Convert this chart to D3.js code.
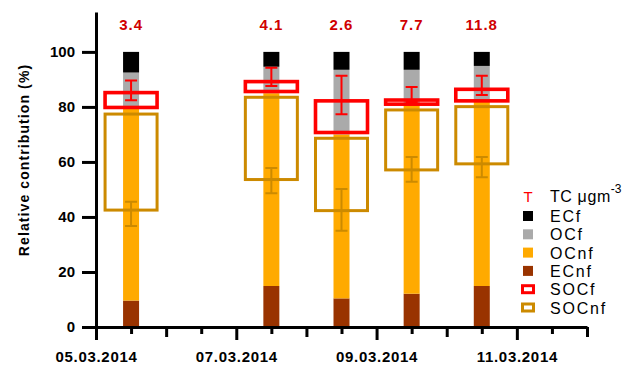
<!DOCTYPE html>
<html>
<head>
<meta charset="utf-8">
<script src="https://cdn.jsdelivr.net/npm/d3@7"></script>
<style>
  body { margin: 0; background: #fff; }
  svg { display: block; font-family: "Liberation Sans", Arial, sans-serif; }
</style>
</head>
<body>
<svg id="chart" width="622" height="365"></svg>
<script>
// sampling days (bars sit at noon)
const days = ["2014-03-05", "2014-03-07", "2014-03-08", "2014-03-09", "2014-03-10"]
const tc = [3.4, 4.1, 2.6, 7.7, 11.8]

// stacked fractions, bottom to top (%)
const ecnf = [9.6, 14.9, 10.4, 12.1, 14.9]
const ocnf = [70.4, 70.1, 59.6, 68.9, 67.1]
const ocf = [12.5, 9.6, 23.5, 12.5, 12.9]
const ecf = [7.5, 5.4, 6.5, 6.5, 5.1]

// secondary OC ranges (boxes)
const socfLow = [79.8, 85.6, 70.7, 81.0, 82.2]
const socfHigh = [85.2, 89.2, 82.2, 82.5, 86.4]
const socnfLow = [42.5, 53.6, 42.3, 57.1, 59.3]
const socnfHigh = [77.4, 83.5, 68.6, 78.9, 80.1]

// error bars
const socfMean = [86.0, 90.9, 84.3, 84.5, 87.8]
const socfSd = [3.6, 3.3, 7.0, 2.7, 3.5]
const socnfMean = [41.1, 53.2, 42.6, 57.3, 58.1]
const socnfSd = [4.4, 4.6, 7.6, 4.5, 3.7]

const yTicks = [0, 20, 40, 60, 80, 100]
const keys = ["ECnf", "OCnf", "OCf", "ECf"]
const colors = {ECnf: "#993300", OCnf: "#FFAA00", OCf: "#AAAAAA", ECf: "#000000"}
const red = "#FF0000", gold = "#CC8A00"

const parse = d3.timeParse("%Y-%m-%d")
const rows = days.map((d, i) => {
  let t = parse(d)
  return {date: d3.timeHour.offset(t, 12), ECnf: ecnf[i], OCnf: ocnf[i], OCf: ocf[i], ECf: ecf[i], tc: tc[i],
    socfLow: socfLow[i], socfHigh: socfHigh[i], socnfLow: socnfLow[i], socnfHigh: socnfHigh[i],
    socfMean: socfMean[i], socfSd: socfSd[i], socnfMean: socnfMean[i], socnfSd: socnfSd[i]}
})

const svg = d3.select("#chart")
const x = d3.scaleTime().domain([parse("2014-03-05"), parse("2014-03-12")]).range([96, 587])
const y = d3.scaleLinear().domain([0, 114.5]).range([327, 12])

const barW = 16, boxW = 52, capW = 12

// stacked bars
const series = d3.stack().keys(keys)(rows)
svg.append("g").selectAll("g")
  .data(series)
  .join("g")
  .attr("fill", d => colors[d.key])
  .selectAll("rect")
  .data(d => d)
  .join("rect")
  .attr("x", d => x(d.data.date) - barW / 2)
  .attr("width", barW)
  .attr("y", d => y(d[1]))
  .attr("height", d => y(d[0]) - y(d[1]))

// SOC boxes
function boxes(lo, hi, col, sw) {
  svg.append("g").selectAll("rect")
    .data(rows)
    .join("rect")
    .attr("x", d => x(d.date) - boxW / 2)
    .attr("width", boxW)
    .attr("y", d => y(d[hi]))
    .attr("height", d => y(d[lo]) - y(d[hi]))
    .attr("fill", "none")
    .attr("stroke", col)
    .attr("stroke-width", sw)
}
boxes("socnfLow", "socnfHigh", gold, 3)
boxes("socfLow", "socfHigh", red, 3.6)

// error bars
function errorBars(m, s, col) {
  let g = svg.append("g").attr("stroke", col).attr("stroke-width", 2).attr("fill", "none")
  g.selectAll("path")
    .data(rows)
    .join("path")
    .attr("d", d => {
      let cx = x(d.date), t = y(d[m] + d[s]), b = y(d[m] - d[s])
      return `M${cx - capW / 2},${t}H${cx + capW / 2}M${cx},${t}V${b}M${cx - capW / 2},${b}H${cx + capW / 2}`
    })
}
errorBars("socnfMean", "socnfSd", gold)
errorBars("socfMean", "socfSd", red)

// TC labels
svg.append("g").selectAll("text")
  .data(rows)
  .join("text")
  .attr("x", d => x(d.date))
  .attr("y", 30)
  .attr("text-anchor", "middle")
  .attr("font-size", 15)
  .attr("font-weight", "bold")
  .attr("letter-spacing", 1)
  .attr("fill", "#D00000")
  .text(d => d.tc)

// y axis
const yAxis = svg.append("g")
  .attr("transform", "translate(96,0)")
  .call(d3.axisLeft(y).tickValues(yTicks).tickSize(14).tickSizeOuter(0).tickPadding(7))
yAxis.select(".domain").attr("stroke-width", 3)
yAxis.selectAll(".tick line").attr("stroke-width", 3)
yAxis.selectAll(".tick text").attr("font-size", 15).attr("font-weight", "bold").attr("fill", "#000")

// x axis, ticks every 12 h with three lengths
const xTicks = d3.timeHour.every(12).range(x.domain()[0], d3.timeHour.offset(x.domain()[1], 1))
const start = x.domain()[0]
function dayIdx(t) { return Math.round((t - start) / 864e5 * 2) / 2 }
const xAxis = svg.append("g")
  .attr("transform", "translate(0,327)")
  .call(d3.axisBottom(x).tickValues(xTicks).tickSizeOuter(0).tickFormat(""))
xAxis.select(".domain").attr("stroke-width", 3)
xAxis.selectAll(".tick line")
  .attr("stroke-width", 3)
  .attr("y2", d => {
    let k = dayIdx(d)
    if (k % 2 === 0) return 13
    if (Number.isInteger(k)) return 10
    return 7
  })
xAxis.selectAll(".tick")
  .filter(d => dayIdx(d) % 2 === 0 && d < x.domain()[1])
  .append("text")
  .attr("y", 35)
  .attr("fill", "#000")
  .attr("font-size", 15)
  .attr("font-weight", "bold")
  .attr("letter-spacing", 0.7)
  .attr("text-anchor", "middle")
  .text(d => d3.timeFormat("%d.%m.%Y")(d))

// y title
svg.append("text")
  .attr("transform", "translate(29,160) rotate(-90)")
  .attr("text-anchor", "middle")
  .attr("font-size", 14)
  .attr("font-weight", "bold")
  .attr("letter-spacing", 1.1)
  .text("Relative contribution (%)")

// legend
const leg = svg.append("g").attr("font-size", 16).attr("letter-spacing", 1.8).attr("fill", "#000")
const lx = 528, tx = 550
leg.append("text").attr("x", lx).attr("y", 202).attr("text-anchor", "middle")
  .attr("fill", red).attr("font-size", 15).attr("letter-spacing", 0).text("T")
const tcText = leg.append("text").attr("x", tx).attr("y", 202).attr("letter-spacing", 0.6)
tcText.append("tspan").text("TC μgm")
tcText.append("tspan").attr("dy", -9).attr("font-size", 12).attr("letter-spacing", 0).text("-3")

const legItems = [
  {label: "ECf", fill: colors.ECf},
  {label: "OCf", fill: colors.OCf},
  {label: "OCnf", fill: colors.OCnf},
  {label: "ECnf", fill: colors.ECnf},
  {label: "SOCf", box: red},
  {label: "SOCnf", box: gold}
]
legItems.forEach((it, i) => {
  let cy = 216 + i * 18.3
  if (it.box) {
    leg.append("rect").attr("x", lx - 5.5).attr("y", cy - 3.5).attr("width", 11).attr("height", 7)
      .attr("fill", "#fff").attr("stroke", it.box).attr("stroke-width", 3)
  } else {
    leg.append("rect").attr("x", lx - 5).attr("y", cy - 5).attr("width", 10).attr("height", 10).attr("fill", it.fill)
  }
  leg.append("text").attr("x", tx).attr("y", cy + 6).text(it.label)
})
</script>
</body>
</html>
